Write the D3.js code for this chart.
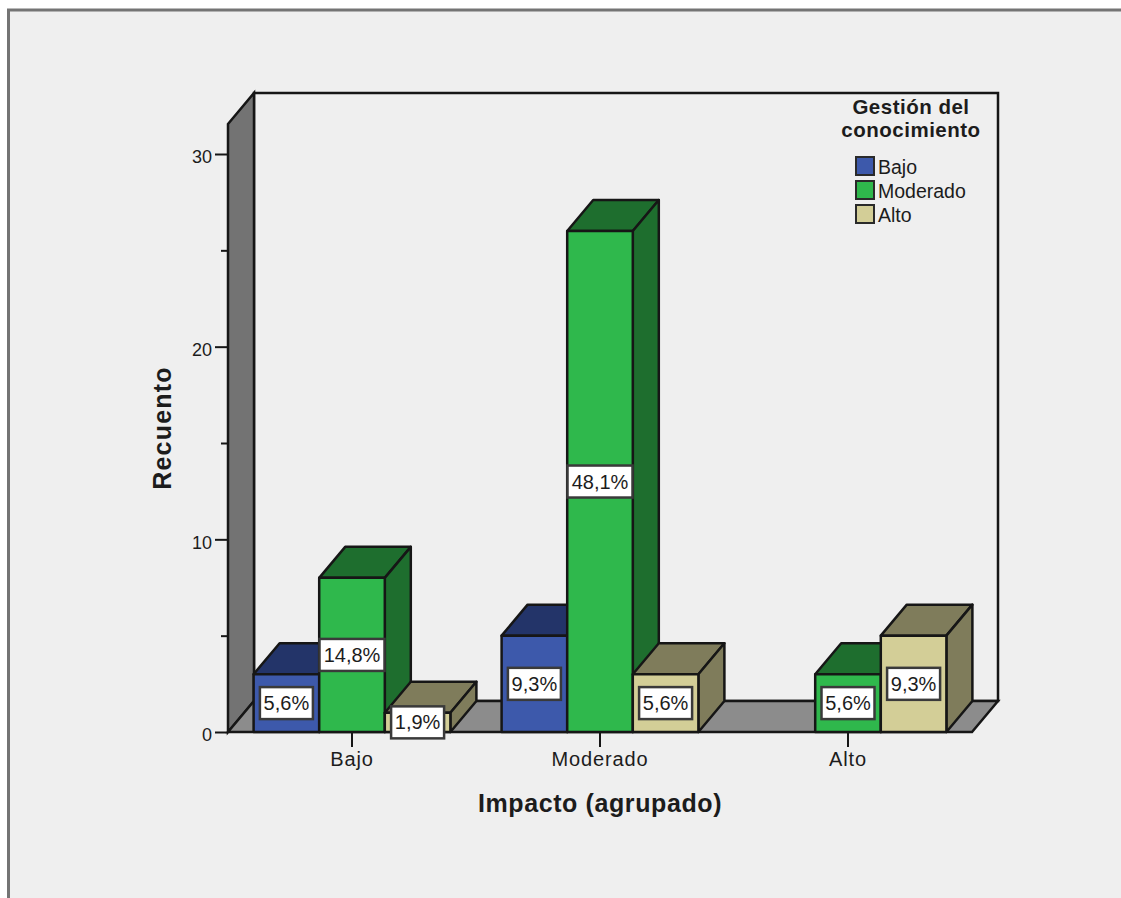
<!DOCTYPE html>
<html>
<head>
<meta charset="utf-8">
<script src="https://cdn.jsdelivr.net/npm/d3@7"></script>
<style>
  html, body { margin: 0; padding: 0; background: #fff; }
  svg { display: block; }
  text { font-family: "Liberation Sans", Arial, sans-serif; fill: #1c1c1c; }
</style>
</head>
<body>
<script>
// Counts of respondents by impact group and knowledge-management level
const categories = ["Bajo", "Moderado", "Alto"];
const seriesNames = ["Bajo", "Moderado", "Alto"];
const bajoCounts = [3, 5, null];
const moderadoCounts = [8, 26, 3];
const altoCounts = [1, 3, 5];
const bajoLabels = ["5,6%", "9,3%", null];
const moderadoLabels = ["14,8%", "48,1%", "5,6%"];
const altoLabels = ["1,9%", "5,6%", "9,3%"];
const countTicks = [0, 5, 10, 15, 20, 25, 30];
const faceColors = ["#3d59ab", "#2fb84c", "#d3ce97"];
const shadeColors = ["#233469", "#1e6e2e", "#7f7c5b"];

const width = 1121, height = 898;
const plot = { left: 228, right: 972, bottom: 732, top: 124 };
const depth = { x: 26, y: -31 };
const barWidth = 65.6;

const svg = d3.select("body").append("svg").attr("width", width).attr("height", height);

// Panel behind the chart, open on the right and at the bottom
svg.append("rect").attr("x", 8.5).attr("y", 10)
  .attr("width", width + 20).attr("height", height + 20)
  .attr("fill", "#efefef").attr("stroke", "#747474").attr("stroke-width", 3);

const x = d3.scaleBand().domain(categories).range([plot.left, plot.right]);
const y = d3.scaleLinear().domain([0, 30]).range([plot.bottom, 154]);
// Every group keeps three slots, so a missing level leaves its slot empty
const slot = d3.scaleBand().domain(d3.range(seriesNames.length))
  .range([-barWidth * 1.5, barWidth * 1.5]);

const poly = pts => pts.map(p => p.join(",")).join(" ");
const ink = "#161616";
const lineWeight = 2.5;

// Box walls: back, left side and floor
const back = { l: plot.left + depth.x, r: plot.right + depth.x, b: plot.bottom + depth.y, t: plot.top + depth.y };
svg.append("polygon")
  .attr("points", poly([[back.l, back.t], [back.r, back.t], [back.r, back.b], [back.l, back.b]]))
  .attr("fill", "#efefef").attr("stroke", ink).attr("stroke-width", lineWeight);
svg.append("polygon")
  .attr("points", poly([[plot.left, plot.top], [back.l, back.t], [back.l, back.b], [plot.left, plot.bottom]]))
  .attr("fill", "#737373").attr("stroke", ink).attr("stroke-width", lineWeight);
svg.append("polygon")
  .attr("points", poly([[plot.left, plot.bottom], [back.l, back.b], [back.r, back.b], [plot.right, plot.bottom]]))
  .attr("fill", "#8c8c8c").attr("stroke", ink).attr("stroke-width", lineWeight);

// One record per drawn bar
const columns = [bajoCounts, moderadoCounts, altoCounts];
const labelColumns = [bajoLabels, moderadoLabels, altoLabels];
const bars = [];
categories.forEach((cat, i) => {
  seriesNames.forEach((_, s) => {
    if (columns[s][i] === null) return;
    bars.push({
      x0: x(cat) + x.bandwidth() / 2 + slot(s),
      value: columns[s][i],
      label: labelColumns[s][i],
      s
    });
  });
});

// Each bar is a front face, a shaded top and a shaded side
const barGroups = svg.append("g").selectAll("g").data(bars).join("g")
  .attr("stroke", ink).attr("stroke-width", lineWeight).attr("stroke-linejoin", "round");
barGroups.append("polygon").attr("fill", d => shadeColors[d.s])
  .attr("points", d => {
    const t = y(d.value), x1 = d.x0 + barWidth;
    return poly([[d.x0, t], [d.x0 + depth.x, t + depth.y], [x1 + depth.x, t + depth.y], [x1, t]]);
  });
barGroups.append("polygon").attr("fill", d => shadeColors[d.s])
  .attr("points", d => {
    const t = y(d.value), x1 = d.x0 + barWidth;
    return poly([[x1, t], [x1 + depth.x, t + depth.y], [x1 + depth.x, y(0) + depth.y], [x1, y(0)]]);
  });
barGroups.append("rect").attr("fill", d => faceColors[d.s])
  .attr("x", d => d.x0).attr("y", d => y(d.value))
  .attr("width", barWidth).attr("height", d => y(0) - y(d.value));

// Percentage labels in white boxes at the middle of each front face
const labels = svg.append("g").selectAll("g").data(bars).join("g")
  .attr("transform", d => `translate(${d.x0 + barWidth / 2},${(y(d.value) + y(0)) / 2})`);
labels.append("rect")
  .attr("x", d => d.label.length > 4 ? -32.5 : -26.5).attr("y", -16)
  .attr("width", d => d.label.length > 4 ? 65 : 53).attr("height", 32)
  .attr("fill", "#fff").attr("stroke", "#3a3a3a").attr("stroke-width", 2.5);
labels.append("text").attr("text-anchor", "middle").attr("y", 7)
  .attr("font-size", 20).text(d => d.label);

// Axes
const yAxis = svg.append("g").attr("transform", `translate(${plot.left},0)`)
  .call(d3.axisLeft(y).tickValues(countTicks).tickSize(13).tickPadding(3)
    .tickFormat(d => d % 10 === 0 ? d : ""));
yAxis.select(".domain").remove();
yAxis.selectAll(".tick line").attr("stroke", ink).attr("stroke-width", 2)
  .attr("x2", d => d % 10 === 0 ? -13 : -7);
yAxis.selectAll("text").attr("font-size", 18).attr("font-family", null).attr("fill", null)
  .attr("y", 3);

const xAxis = svg.append("g").attr("transform", `translate(0,${plot.bottom})`)
  .call(d3.axisBottom(x).tickSize(15).tickPadding(5));
xAxis.select(".domain").remove();
xAxis.selectAll(".tick line").attr("stroke", ink).attr("stroke-width", 2);
xAxis.selectAll("text").attr("font-size", 20).attr("font-family", null).attr("fill", null)
  .attr("letter-spacing", 0.9);

svg.append("text").attr("x", 600).attr("y", 812).attr("text-anchor", "middle")
  .attr("font-size", 25).attr("font-weight", "bold").attr("letter-spacing", 0.6)
  .text("Impacto (agrupado)");
svg.append("text").attr("transform", "translate(171,428) rotate(-90)").attr("text-anchor", "middle")
  .attr("font-size", 25).attr("font-weight", "bold").attr("letter-spacing", 1.2).text("Recuento");

// Legend
svg.append("text").attr("x", 911).attr("y", 114).attr("text-anchor", "middle")
  .attr("font-size", 20.5).attr("font-weight", "bold").attr("letter-spacing", 0.5).text("Gestión del");
svg.append("text").attr("x", 911).attr("y", 137).attr("text-anchor", "middle")
  .attr("font-size", 20.5).attr("font-weight", "bold").attr("letter-spacing", 0.5).text("conocimiento");
const legend = svg.append("g").selectAll("g").data(seriesNames).join("g")
  .attr("transform", (d, i) => `translate(856,${157 + i * 24})`);
legend.append("rect").attr("width", 18).attr("height", 18)
  .attr("fill", (d, i) => faceColors[i]).attr("stroke", "#2a2a2a").attr("stroke-width", 2);
legend.append("text").attr("x", 22).attr("y", 16.5).attr("font-size", 19.5).text(d => d);
</script>
</body>
</html>
